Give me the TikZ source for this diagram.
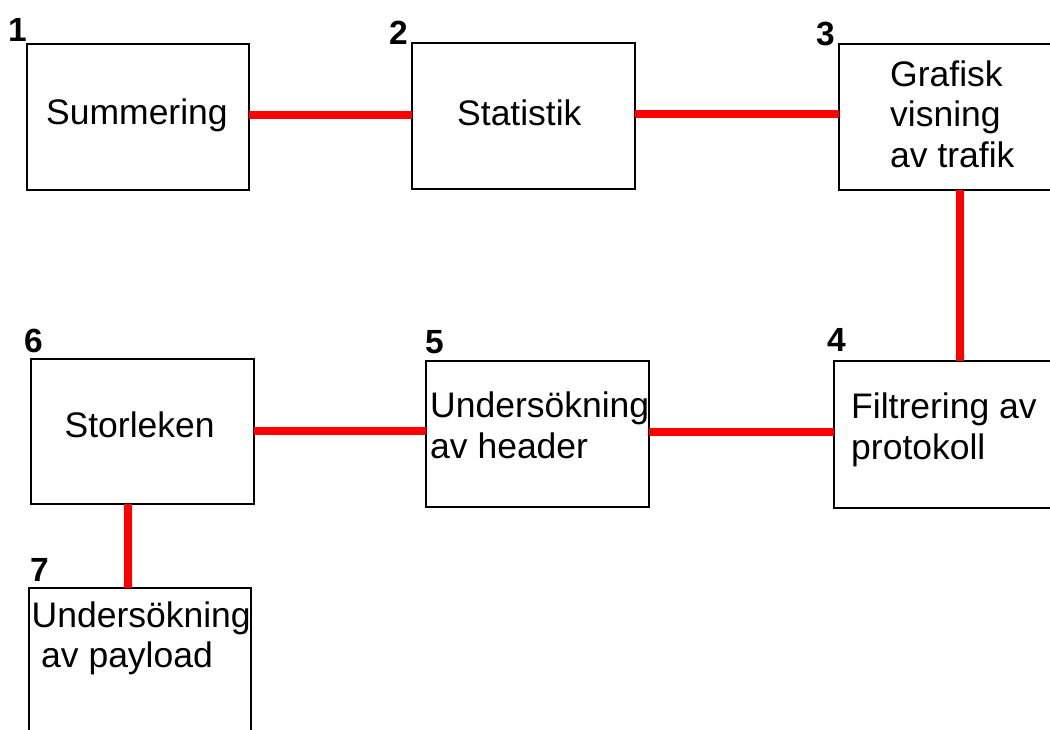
\documentclass[tikz,border=0pt]{standalone}
\usepackage{fontspec}
\setmainfont{Liberation Sans}
\begin{document}
\begin{tikzpicture}[x=1pt,y=-1pt,
  box/.style={draw=black, line width=2pt, fill=white, rectangle, inner sep=0pt, outer sep=0pt},
  label/.style={anchor=base west, inner sep=0pt, align=left,
    font=\fontsize{35.5}{40.5}\selectfont},
  num/.style={anchor=base west, inner sep=0pt, font=\fontsize{33.5}{36}\selectfont\bfseries},
  link/.style={draw=red, line width=8pt}]
\useasboundingbox (0,0) rectangle (1050,729);
\fill[white] (0,0) rectangle (1050,729);
\clip (0,0) rectangle (1050,729);

% process boxes
\node[box, minimum width=222pt, minimum height=146pt] (b1) at (137.5,116.5) {};
\node[box, minimum width=223pt, minimum height=146pt] (b2) at (523,115.5) {};
\node[box, minimum width=243pt, minimum height=145.5pt] (b3) at (960,116.75) {};
\node[box, minimum width=253pt, minimum height=146.5pt] (b4) at (960,434.25) {};
\node[box, minimum width=223pt, minimum height=146pt] (b5) at (537.5,434) {};
\node[box, minimum width=223pt, minimum height=145.5pt] (b6) at (142,431.25) {};
\node[box, minimum width=222pt, minimum height=146pt] (b7) at (139.5,661) {};

% box texts (multi-line texts are placed by the baseline of their last line)
\node[label] (t1) at (46,124) {Summering};
\node[label] (t2) at (457,125.3) {Statistik};
\node[label] (t3) at (890,167) {Grafisk\\visning\\av trafik};
\node[label] (t4) at (851,459.3) {Filtrering av\\protokoll};
\node[label] (t5) at (430,458.3) {Undersökning\\av header};
\node[label] (t6) at (64.5,437.3) {Storleken};
\node[label] (t7) at (31.5,667.7) {Undersökning\\\hspace*{9.5pt}av payload};

% step numbers
\node[num] (n1) at (8,41.7) {1};
\node[num] (n2) at (389,44.3) {2};
\node[num] (n3) at (816,45) {3};
\node[num] (n4) at (827,351.7) {4};
\node[num] (n5) at (425,353) {5};
\node[num] (n6) at (24,352) {6};
\node[num] (n7) at (30,581.7) {7};

% connectors
\draw[link] ([yshift=1.5pt]b1.east) -- ([yshift=1.5pt]b1.east -| b2.west);
\draw[link] ([yshift=2pt]b2.east) -- ([yshift=2pt]b2.east -| b3.west);
\draw[link] (b3.south) -- (b4.north);
\draw[link] ([yshift=2.5pt]b4.west) -- ([yshift=2.5pt]b4.west -| b5.east);
\draw[link] (b6.east) -- (b6.east -| b5.west);
\draw[link] ([xshift=-14pt]b6.south) -- ([xshift=-14pt]b6.south |- b7.north);
\end{tikzpicture}
\end{document}
